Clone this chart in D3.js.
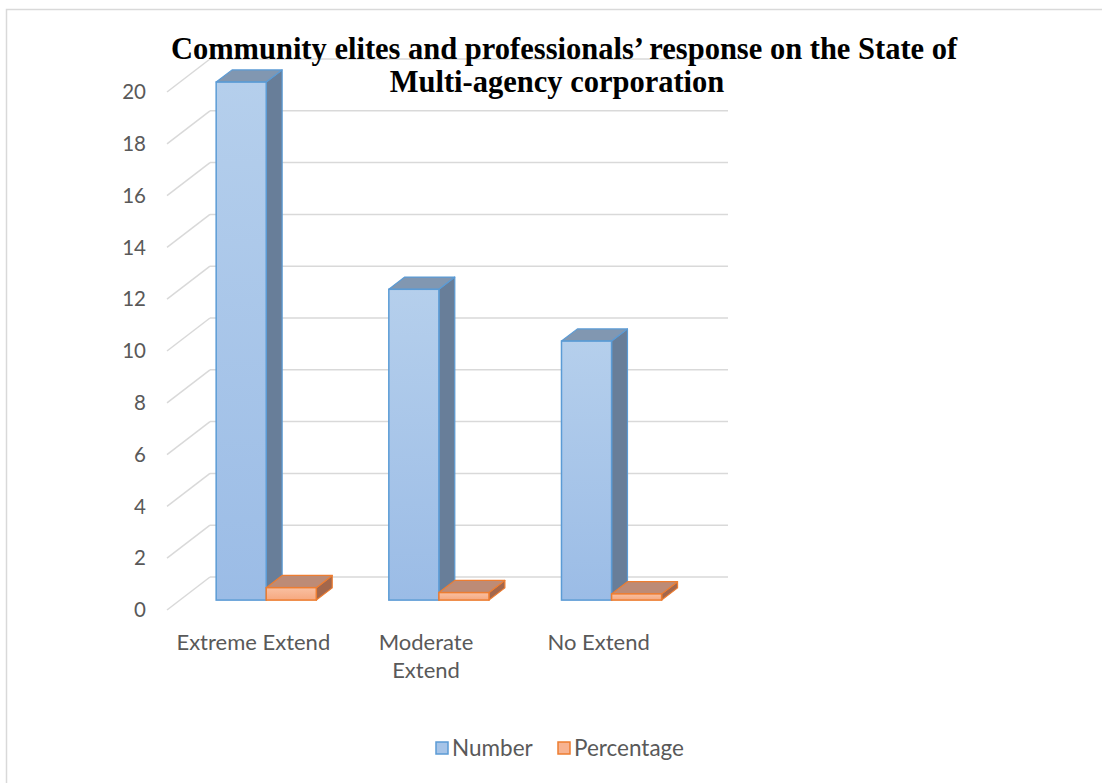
<!DOCTYPE html>
<html>
<head>
<meta charset="utf-8">
<script src="https://cdn.jsdelivr.net/npm/d3@7"></script>
<style>
  html, body { margin: 0; padding: 0; background: #fff; }
  svg { display: block; }
</style>
</head>
<body>
<svg id="chart" width="1102" height="783"></svg>
<script>
// Chart data
const categories = ["Extreme Extend", "Moderate Extend", "No Extend"];
const categoryLines = [["Extreme Extend"], ["Moderate", "Extend"], ["No Extend"]];
const seriesNames = ["Number", "Percentage"];
const numberValues = [20, 12, 10];
const percentageValues = [0.48, 0.29, 0.24];
const yTicks = [0, 2, 4, 6, 8, 10, 12, 14, 16, 18, 20];
const titleLines = ["Community elites and professionals’ response on the State of", "Multi-agency corporation"];

const svg = d3.select("#chart");
const W = 1102, H = 783;

// 3D projection: front floor edge plus an oblique depth vector
const floorLeft = 167, floorRight = 685, floorY = 610;
const depth = { x: 43, y: -33 };
const barDepthStart = 0.3, barDepthEnd = 0.67;

const y = d3.scaleLinear().domain([0, 20]).range([0, 518]);
const x0 = d3.scaleBand().domain(categories).range([floorLeft, floorRight])
  .paddingInner(0.42).paddingOuter(0.21);
const x1 = d3.scaleBand().domain(seriesNames).range([0, x0.bandwidth()]).padding(0);

const grid = "#d9d9d9";
const textColor = "#595959";
const font = "Lato, 'Open Sans', sans-serif";

// Outer chart frame
svg.append("rect").attr("x", 6.5).attr("y", 9.5).attr("width", W + 20).attr("height", H + 20)
  .attr("fill", "#fff").attr("stroke", grid).attr("stroke-width", 1.5);

// Gradients for the front faces
const defs = svg.append("defs");
const gBlue = defs.append("linearGradient").attr("id", "gBlue").attr("x1", 0).attr("y1", 0).attr("x2", 0).attr("y2", 1);
gBlue.append("stop").attr("offset", "0%").attr("stop-color", "#b5cfec");
gBlue.append("stop").attr("offset", "100%").attr("stop-color", "#9bbce6");
const gOrange = defs.append("linearGradient").attr("id", "gOrange").attr("x1", 0).attr("y1", 0).attr("x2", 0).attr("y2", 1);
gOrange.append("stop").attr("offset", "0%").attr("stop-color", "#f9c0a2");
gOrange.append("stop").attr("offset", "100%").attr("stop-color", "#f6a87f");

// Gridlines: back wall horizontals and left side-wall diagonals
const gridG = svg.append("g");
yTicks.forEach(t => {
  const fy = floorY - y(t);
  gridG.append("line")
    .attr("x1", floorLeft + depth.x).attr("x2", floorRight + depth.x)
    .attr("y1", fy + depth.y).attr("y2", fy + depth.y)
    .attr("stroke", grid).attr("stroke-width", 1.5);
  gridG.append("line")
    .attr("x1", floorLeft).attr("y1", fy)
    .attr("x2", floorLeft + depth.x).attr("y2", fy + depth.y)
    .attr("stroke", grid).attr("stroke-width", 1.5);
});

// Y tick labels
svg.append("g").selectAll("text").data(yTicks).join("text")
  .attr("x", 146).attr("y", d => floorY - y(d) + 2)
  .attr("text-anchor", "end").attr("dominant-baseline", "middle")
  .attr("font-family", font).attr("font-size", 20.5).attr("fill", textColor)
  .text(d => d);

// Bars
const styles = {
  Number: { front: "url(#gBlue)", top: "#8197b1", side: "#687e99", stroke: "#5b9bd5" },
  Percentage: { front: "url(#gOrange)", top: "#bd8b76", side: "#a3674c", stroke: "#ed7d31" }
};
const bars = [];
categories.forEach((c, i) => {
  bars.push({ cat: c, series: "Number", value: numberValues[i] });
  bars.push({ cat: c, series: "Percentage", value: percentageValues[i] });
});

const offX = depth.x * barDepthStart, offY = depth.y * barDepthStart;
const dX = depth.x * (barDepthEnd - barDepthStart), dY = depth.y * (barDepthEnd - barDepthStart);
const pts = a => a.map(p => p.join(",")).join(" ");

const barG = svg.append("g");
bars.forEach(b => {
  const s = styles[b.series];
  const xl = x0(b.cat) + x1(b.series) + offX;
  const xr = xl + x1.bandwidth();
  const yb = floorY + offY;
  const yt = yb - y(b.value);
  const g = barG.append("g");
  g.append("polygon")
    .attr("points", pts([[xr, yt], [xr + dX, yt + dY], [xr + dX, yb + dY], [xr, yb]]))
    .attr("fill", s.side).attr("stroke", s.stroke).attr("stroke-width", 1.2).attr("stroke-linejoin", "round");
  g.append("polygon")
    .attr("points", pts([[xl, yt], [xl + dX, yt + dY], [xr + dX, yt + dY], [xr, yt]]))
    .attr("fill", s.top).attr("stroke", s.stroke).attr("stroke-width", 1.2).attr("stroke-linejoin", "round");
  g.append("rect")
    .attr("x", xl).attr("y", yt).attr("width", xr - xl).attr("height", yb - yt)
    .attr("fill", s.front).attr("stroke", s.stroke).attr("stroke-width", 1.5);
});

// Category labels
const catG = svg.append("g");
categories.forEach((c, i) => {
  const cx = x0(c) + x0.bandwidth() / 2;
  const t = catG.append("text")
    .attr("x", cx).attr("y", 650)
    .attr("text-anchor", "middle")
    .attr("font-family", font).attr("font-size", 22).attr("fill", textColor);
  categoryLines[i].forEach((ln, j) => {
    t.append("tspan").attr("x", cx).attr("dy", j === 0 ? 0 : 28).text(ln);
  });
});

// Title
const titleG = svg.append("g");
titleLines.forEach((ln, i) => {
  titleG.append("text")
    .attr("x", i === 0 ? 564 : 557).attr("y", 59 + i * 33)
    .attr("text-anchor", "middle")
    .attr("font-family", "'Liberation Serif', 'Times New Roman', serif")
    .attr("font-weight", "bold").attr("font-size", 30.5).attr("fill", "#000")
    .text(ln);
});

// Legend
const legendItems = [
  { name: "Number", x: 436, fill: "#a6c4e8", stroke: "#5b9bd5" },
  { name: "Percentage", x: 558, fill: "#f7b391", stroke: "#ed7d31" }
];
const legG = svg.append("g");
legendItems.forEach(l => {
  legG.append("rect").attr("x", l.x).attr("y", 742).attr("width", 12).attr("height", 12)
    .attr("fill", l.fill).attr("stroke", l.stroke).attr("stroke-width", 1.5);
  legG.append("text").attr("x", l.x + 16).attr("y", 750)
    .attr("dominant-baseline", "middle")
    .attr("font-family", font).attr("font-size", 22.5).attr("fill", textColor)
    .text(l.name);
});
</script>
</body>
</html>
